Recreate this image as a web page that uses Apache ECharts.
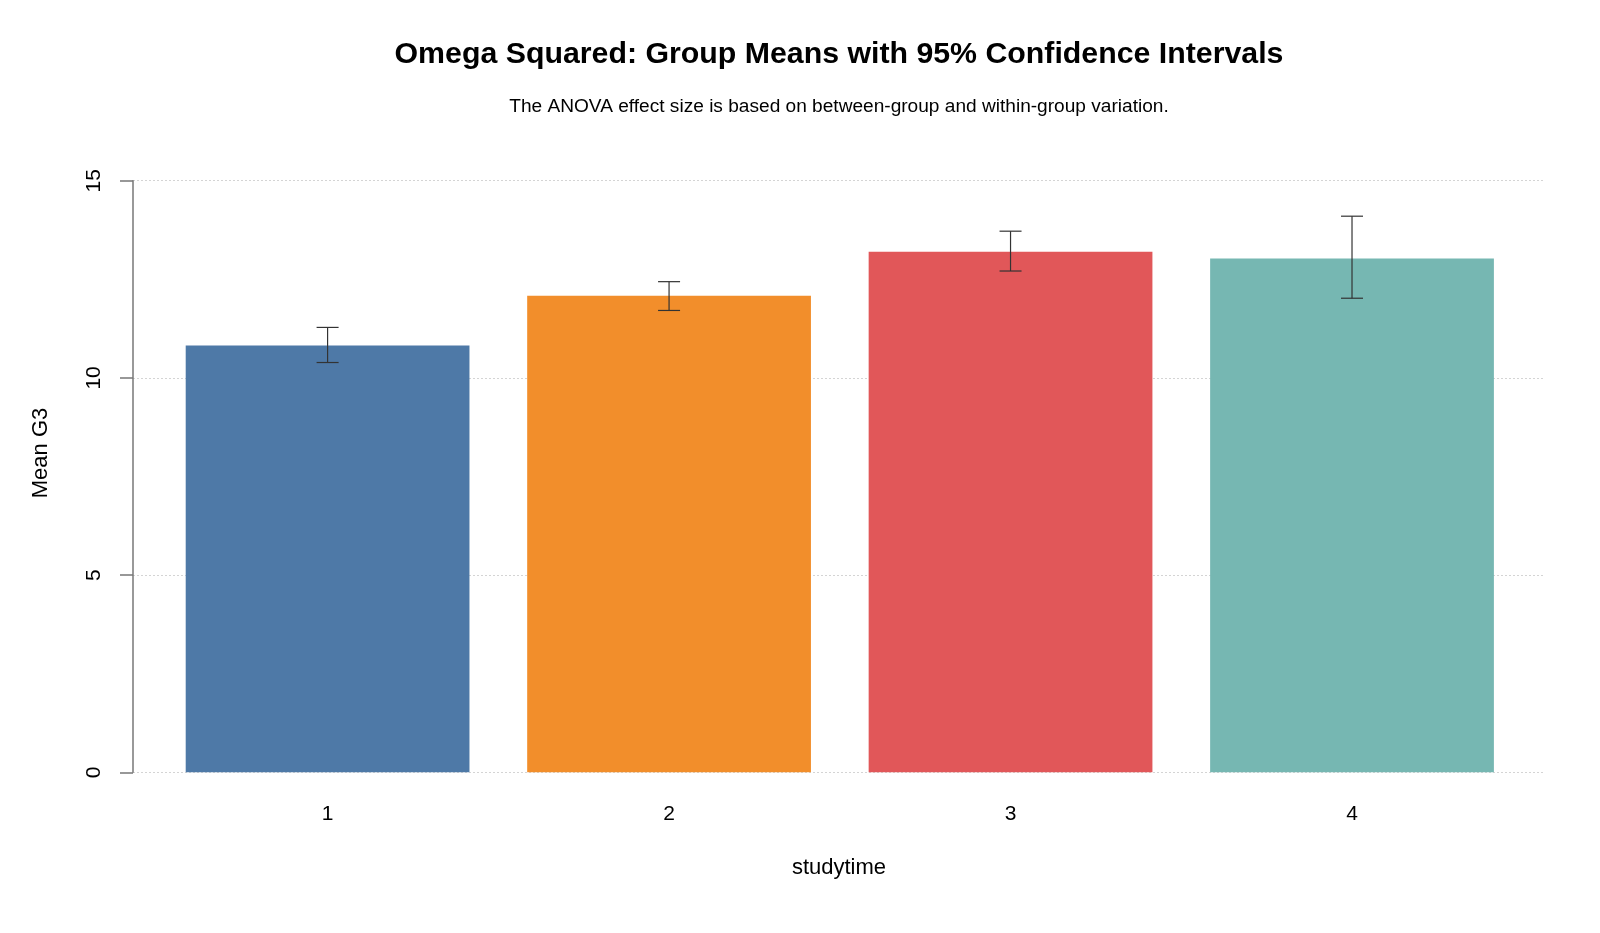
<!DOCTYPE html>
<html>
<head>
<meta charset="utf-8">
<script src="https://cdn.jsdelivr.net/npm/echarts@6/dist/echarts.min.js"></script>
<style>
html,body{margin:0;padding:0;background:#fff;}
#chart{width:1600px;height:933px;}
</style>
</head>
<body>
<div id="chart"></div>
<script>
var categories = ['1', '2', '3', '4'];
var means = [10.82, 12.08, 13.20, 13.03];
var lower = [10.39, 11.71, 12.71, 12.02];
var upper = [11.28, 12.44, 13.72, 14.10];
var barColors = ['#4E79A7', '#F28E2B', '#E15759', '#76B7B2'];
var yTicks = [0, 5, 10, 15];

var FONT = '"Liberation Sans", Arial, sans-serif';
var chart = echarts.init(document.getElementById('chart'), null, {renderer: 'canvas'});

var errData = categories.map(function (c, i) { return [i, lower[i], upper[i]]; });

var option = {
  backgroundColor: '#ffffff',
  animation: false,
  graphic: [
    {
      type: 'text', x: 839, y: 55,
      style: {text: 'Omega Squared: Group Means with 95% Confidence Intervals', font: 'bold 30.3px ' + FONT, fill: '#000', textAlign: 'center', textVerticalAlign: 'middle'}
    },
    {
      type: 'text', x: 839, y: 107,
      style: {text: 'The ANOVA effect size is based on between-group and within-group variation.', font: '19.1px ' + FONT, fill: '#000', textAlign: 'center', textVerticalAlign: 'middle'}
    },
    {
      type: 'text', x: 41, y: 453, rotation: Math.PI / 2,
      style: {text: 'Mean G3', font: '22px ' + FONT, fill: '#000', textAlign: 'center', textVerticalAlign: 'middle'}
    },
    {
      type: 'text', x: 839, y: 868,
      style: {text: 'studytime', font: '22px ' + FONT, fill: '#000', textAlign: 'center', textVerticalAlign: 'middle'}
    }
  ],
  grid: [
    {left: 133, right: 55, top: 180.7, bottom: 160.7, containLabel: false},
    {left: 156.85, right: 77.25, top: 180.7, bottom: 160.7, containLabel: false}
  ],
  xAxis: [
    {gridIndex: 0, type: 'category', data: categories, show: false},
    {
      gridIndex: 1, type: 'category', data: categories,
      axisLine: {show: false}, axisTick: {show: false},
      axisLabel: {fontFamily: FONT, fontSize: 21, color: '#000', margin: 31},
      splitLine: {show: false}
    }
  ],
  yAxis: [
    {
      gridIndex: 0, type: 'value', min: 0, max: 15, interval: 5,
      axisLine: {show: true, lineStyle: {color: '#777', width: 1.5}},
      axisTick: {show: true, length: 13, lineStyle: {color: '#777', width: 1.5}},
      axisLabel: {fontFamily: FONT, fontSize: 21, color: '#000', rotate: 90, margin: 28,
        formatter: function (v) { return yTicks.indexOf(v) >= 0 ? String(v) : ''; }},
      splitLine: {show: true, lineStyle: {color: '#d4d4d4', type: [2, 2], width: 1}}
    },
    {gridIndex: 1, type: 'value', min: 0, max: 15, interval: 5, show: false}
  ],
  series: [
    {
      type: 'bar', xAxisIndex: 1, yAxisIndex: 1,
      barWidth: '83.1%',
      data: means.map(function (v, i) { return {value: v, itemStyle: {color: barColors[i]}}; }),
      z: 2
    },
    {
      type: 'custom', xAxisIndex: 1, yAxisIndex: 1, z: 5,
      data: errData,
      renderItem: function (params, api) {
        var x = api.value(0);
        var lo = api.coord([x, api.value(1)]);
        var hi = api.coord([x, api.value(2)]);
        var hw = 11;
        var st = {stroke: '#333', lineWidth: 1.2};
        return {
          type: 'group',
          children: [
            {type: 'line', shape: {x1: hi[0], y1: hi[1], x2: lo[0], y2: lo[1]}, style: st},
            {type: 'line', shape: {x1: hi[0] - hw, y1: hi[1], x2: hi[0] + hw, y2: hi[1]}, style: st},
            {type: 'line', shape: {x1: lo[0] - hw, y1: lo[1], x2: lo[0] + hw, y2: lo[1]}, style: st}
          ]
        };
      }
    }
  ]
};
chart.setOption(option);
</script>
</body>
</html>
